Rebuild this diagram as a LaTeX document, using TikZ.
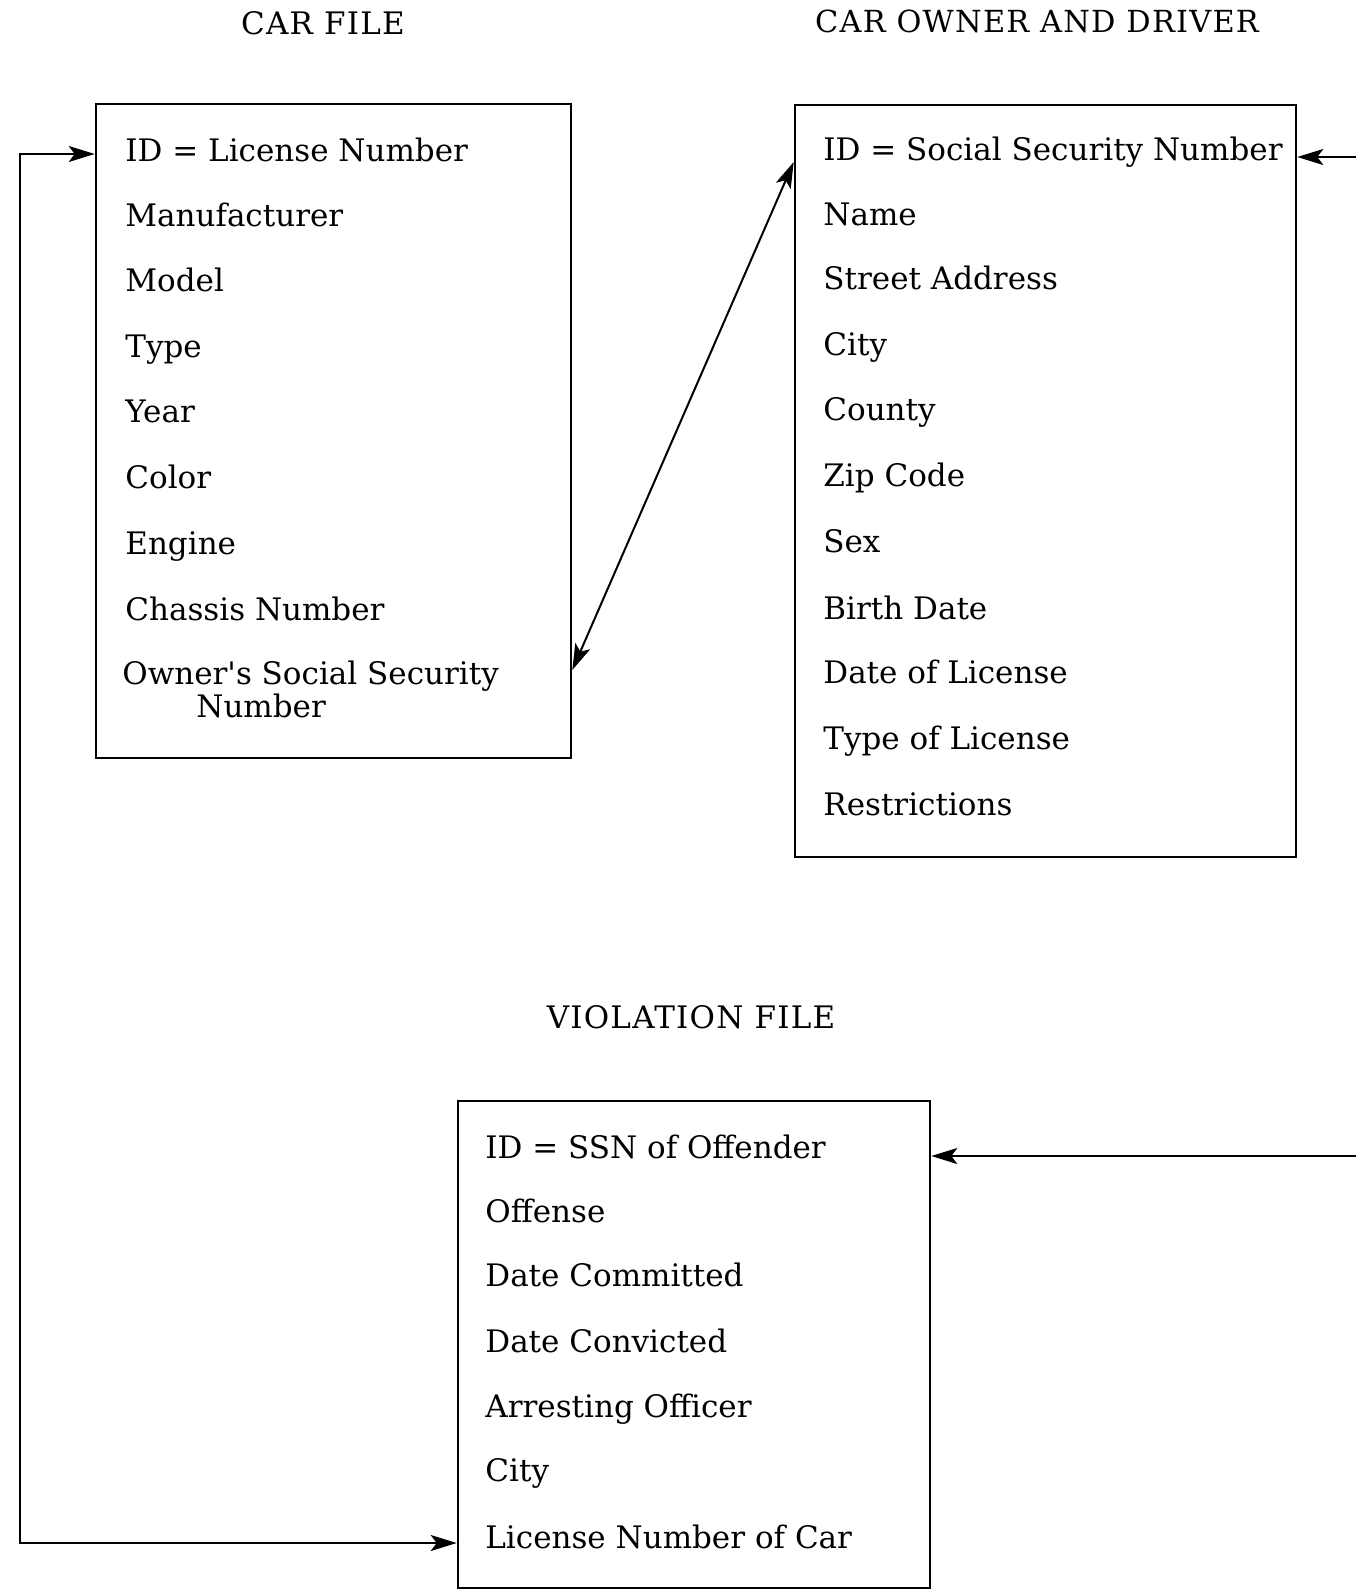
\documentclass[tikz,border=0pt]{standalone}
\usepackage{fontspec}
\setmainfont{DejaVu Serif}
\newfontfamily\ttlfont[LetterSpace=4]{DejaVu Serif}
\usetikzlibrary{arrows.meta}
\begin{document}
\begin{tikzpicture}[x=0.5pt,y=-0.5pt,
  box/.style={draw,line width=1.3pt,inner sep=0pt},
  item/.style={anchor=mid west,inner sep=0pt,yshift=-3.2pt,font=\fontsize{15.5}{18}\selectfont},
  ttl/.style={anchor=center,inner sep=0pt,font=\ttlfont\fontsize{15.5}{18}\selectfont},
  tip/.style={Stealth[length=13pt,width=8pt,inset=3pt]},
  link/.style={line width=1pt,{Stealth[length=13pt,width=8pt,inset=3pt]}-{Stealth[length=13pt,width=8pt,inset=3pt]}},
  rlink/.style={line width=1pt,-{Stealth[length=13pt,width=8pt,inset=3pt]}}]
\useasboundingbox (0,0) rectangle (1356,1591);
% titles
\node[ttl] (t1) at (323,23) {CAR FILE};
\node[ttl,font=\ttlfont\fontsize{15.2}{18}\selectfont] (t2) at (1037,21) {CAR OWNER AND DRIVER};
\node[ttl] (t3) at (691,1017) {VIOLATION FILE};
% boxes
\node[box,minimum width=237.5pt,minimum height=327pt] (car) at (333.5,431) {};
\node[box,minimum width=250.5pt,minimum height=376pt] (own) at (1045.5,481) {};
\node[box,minimum width=236pt,minimum height=243.5pt] (viol) at (694,1344.5) {};
% car file items
\node[item] (c1) at (125,150) {ID = License Number};
\node[item] (c2) at (125,215) {Manufacturer};
\node[item] (c3) at (125,280) {Model};
\node[item] (c4) at (125,346) {Type};
\node[item] (c5) at (125,411) {Year};
\node[item] (c6) at (125,477) {Color};
\node[item] (c7) at (125,543) {Engine};
\node[item] (c8) at (125,609) {Chassis Number};
\node[item] (c9) at (122,673) {Owner\textquotesingle s Social Security};
\node[item] (c10) at (196,706) {Number};
% owner items
\node[item] (o1) at (823,149) {ID = Social Security Number};
\node[item] (o2) at (823,214) {Name};
\node[item] (o3) at (823,278) {Street Address};
\node[item] (o4) at (823,344) {City};
\node[item] (o5) at (823,409) {County};
\node[item] (o6) at (823,475) {Zip Code};
\node[item] (o7) at (823,541) {Sex};
\node[item] (o8) at (823,608) {Birth Date};
\node[item] (o9) at (823,672) {Date of License};
\node[item] (o10) at (823,738) {Type of License};
\node[item] (o11) at (823,804) {Restrictions};
% violation items
\node[item] (v1) at (485,1147) {ID = SSN of Offender};
\node[item] (v2) at (485,1211) {Offense};
\node[item] (v3) at (485,1275) {Date Committed};
\node[item] (v4) at (485,1341) {Date Convicted};
\node[item] (v5) at (485,1406) {Arresting Officer};
\node[item] (v6) at (485,1470) {City};
\node[item] (v7) at (485,1537) {License Number of Car};
% connectors
\coordinate (LT) at (20,154);
\coordinate (LB) at (20,1543);
\draw[link] (car.west |- LT) -- (LT) -- (LB) -- (viol.west |- LB);
\coordinate (D1) at (0,670);
\coordinate (D2) at (0,162);
\draw[link] (car.east |- D1) -- (own.west |- D2);
\coordinate (R1) at (1356,157);
\coordinate (R2) at (1356,1156);
\draw[rlink] (R1) -- (own.east |- R1);
\draw[rlink] (R2) -- (viol.east |- R2);
\end{tikzpicture}
\end{document}
